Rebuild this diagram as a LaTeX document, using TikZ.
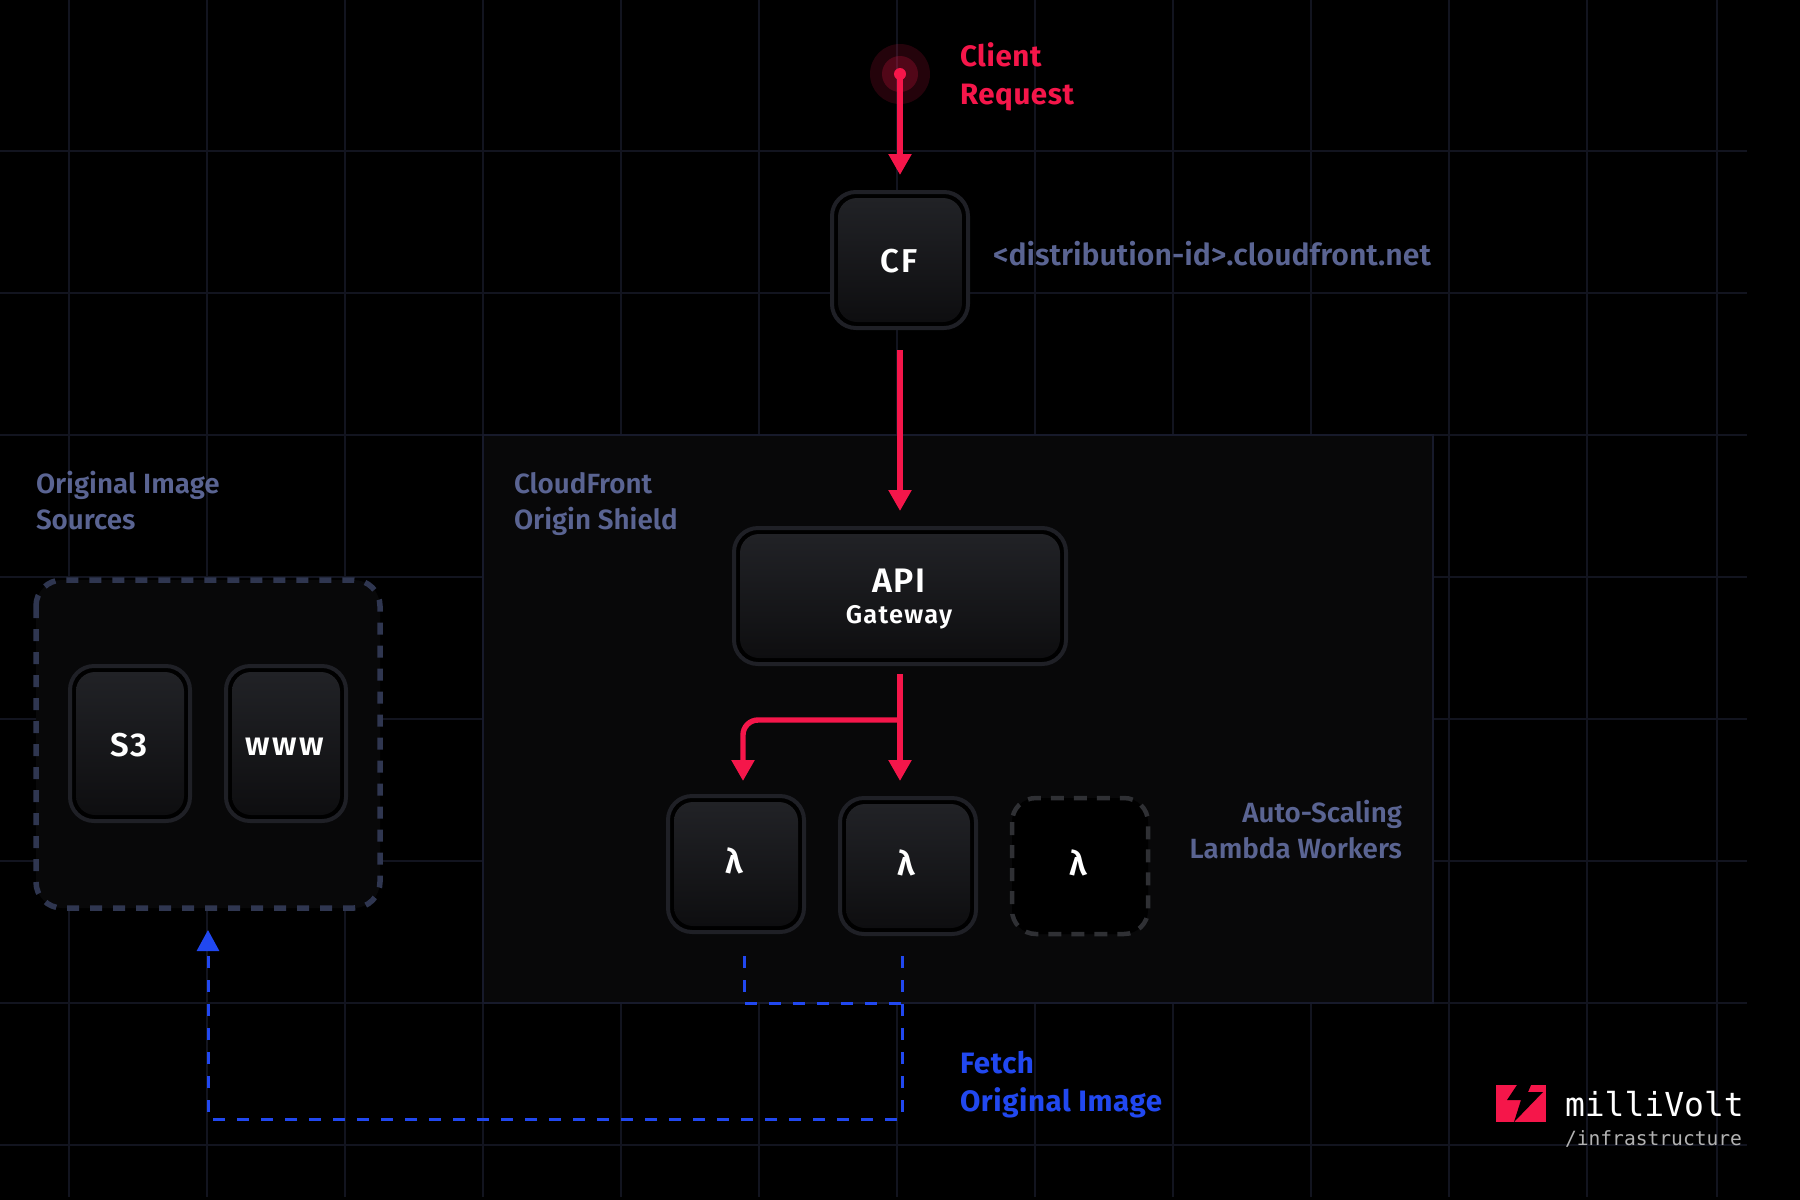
\documentclass[tikz,border=0pt]{standalone}
\usepackage{fontspec}
\setmainfont{Fira Sans}
\newfontfamily\medf{Fira Sans SemiBold}
\newfontfamily\wdf[LetterSpace=5]{Fira Sans SemiBold}
\newfontfamily\wwwf[LetterSpace=8]{Fira Sans SemiBold}
\newfontfamily\bigf[LetterSpace=2]{Fira Sans Bold}
\newfontfamily\logof{DejaVu Sans Mono}
\usetikzlibrary{arrows.meta,shapes.geometric}
\definecolor{bgc}{HTML}{000000}
\definecolor{gridc}{HTML}{12141F}
\definecolor{panelc}{HTML}{080809}
\definecolor{panelline}{HTML}{171A2B}
\definecolor{redc}{HTML}{F5164A}
\definecolor{bluec}{HTML}{2148F0}
\definecolor{slatec}{HTML}{5A6492}
\definecolor{edgec}{HTML}{1F2026}
\definecolor{ghostc}{HTML}{2F3034}
\definecolor{grouplinec}{HTML}{2F3650}
\definecolor{topc}{HTML}{212226}
\definecolor{botc}{HTML}{0E0E10}
\tikzset{
 x=1pt,y=-1pt,
 gridline/.style={gridc,line width=1.6pt},
 chip/.style={rounded corners=24pt,draw=edgec,line width=4pt,fill=black},
 chipface/.style={rounded corners=19pt,top color=topc,bottom color=botc,draw=none},
 ghost/.style={rounded corners=24pt,draw=ghostc,line width=4.5pt,fill=black,dash pattern=on 13pt off 10pt},
 lab/.style={inner sep=0pt,outer sep=0pt,align=left,anchor=north west},
 redflow/.style={redc,line width=5.4pt,-{Triangle[length=21pt,width=22pt]}},
 blueflow/.style={bluec,line width=3pt,dash pattern=on 12pt off 12pt},
 bluetip/.style={bluec,line width=3pt,-{Triangle[length=21pt,width=22pt]}},
 chiptext/.style={text=white,inner sep=0pt,align=center},
}
\newcommand{\chipbox}[5]{% x0 y0 x1 y1
 \draw[chip] (#1+2,#2+2) rectangle (#3-2,#4-2);
 \fill[chipface] (#1+8,#2+8) rectangle (#3-8,#4-8);
}
\begin{document}
\begin{tikzpicture}
\useasboundingbox (0,0) rectangle (1800,1200);
\fill[bgc] (0,0) rectangle (1800,1200);
% grid
\foreach \gx in {69,207,345,483,621,759,897,1035,1173,1311,1449,1587,1717}
  \draw[gridline] (\gx,0) -- (\gx,1197);
\foreach \gy in {151,293,435,577,719,861,1003,1145}
  \draw[gridline] (0,\gy) -- (1747,\gy);
% panel
\fill[panelc] (483,435) rectangle (1433,1003);
\draw[panelline,line width=1.6pt] (483,435) rectangle (1433,1003);
% source group
\draw[fill=panelc,draw=grouplinec,line width=5.5pt,rounded corners=26pt,dash pattern=on 12pt off 11pt] (36,580) rectangle (380,908);
% chips
\chipbox{68}{664}{192}{823}{}
\node[chiptext,font=\wdf\fontsize{33}{36}\selectfont] (s3) at (129,745) {S3};
\chipbox{224}{664}{348}{823}{}
\node[chiptext,font=\wwwf\fontsize{33}{36}\selectfont] (www) at (285,747) {www};
\chipbox{830}{190}{970}{330}{}
\node[chiptext,font=\wdf\fontsize{33}{36}\selectfont] (cf) at (899,261) {CF};
\draw[chip] (734,528) rectangle (1066,664);
\fill[chipface] (740,534) rectangle (1060,658);
\node[chiptext,font=\wdf\fontsize{34}{36}\selectfont] (api) at (899,581) {API};
\node[chiptext,font=\wdf\fontsize{25.5}{28}\selectfont] (gw) at (899,617) {Gateway};
\chipbox{666}{794}{806}{934}{}
\node[chiptext,font=\medf\fontsize{34}{36}\selectfont] (la) at (734,861) {λ};
\chipbox{838}{796}{978}{936}{}
\node[chiptext,font=\medf\fontsize{34}{36}\selectfont] (lb) at (906,863) {λ};
\draw[ghost] (1012,798) rectangle (1148,934);
\node[chiptext,font=\medf\fontsize{34}{36}\selectfont] (lc) at (1078,863) {λ};
% client dot
\fill[redc,opacity=.15] (900,74) circle (30);
\fill[redc,opacity=.22] (900,74) circle (18);
\fill[redc] (900,74) circle (6);
\coordinate (client) at (900,74);
\coordinate (cfin) at (900,175);
\coordinate (cfout) at (900,350);
\coordinate (apiin) at (900,511);
\coordinate (apiout) at (900,674);
\coordinate (split) at (900,720);
\coordinate (lain) at (743,781);
\coordinate (lbin) at (900,781);
\draw[redflow] (client) -- (cfin);
\draw[redflow] (cfout) -- (apiin);
\draw[redflow] (apiout) -- (lbin);
\draw[redflow,rounded corners=15pt] (split) -| (lain);
% blue
\coordinate (ba) at (744,956);
\coordinate (bb) at (744,1003);
\coordinate (bc) at (902,1003);
\coordinate (bd) at (902,956);
\coordinate (be) at (902,1119);
\coordinate (bf) at (208,1119);
\coordinate (bg) at (208,951);
\coordinate (srcin) at (208,930);
\draw[blueflow] (ba) -- (bb) -- (bc);
\draw[blueflow] (bd) -- (be) -- (bf) -- (bg);
\draw[bluetip] (bg) -- (srcin);
% labels
\node[lab,text=redc,font=\bigf\fontsize{29.5}{38}\selectfont] (t1) at (960,43) {Client\\Request};
\node[lab,text=slatec,font=\medf\fontsize{30.2}{36}\selectfont,anchor=west] (t2) at (993,254) {<distribution-id>.cloudfront.net};
\node[lab,text=slatec,font=\medf\fontsize{27.8}{36}\selectfont] (t3) at (36,471) {Original Image\\Sources};
\node[lab,text=slatec,font=\medf\fontsize{27.8}{36}\selectfont] (t4) at (514,472) {CloudFront\\Origin Shield};
\node[lab,text=slatec,font=\medf\fontsize{27.8}{36}\selectfont,align=right,anchor=north east] (t5) at (1402,800) {Auto-Scaling\\Lambda Workers};
\node[lab,text=bluec,font=\bigf\fontsize{29.5}{38}\selectfont] (t6) at (960,1051) {Fetch\\Original Image};
% logo
\fill[redc] (1496,1085) rectangle (1546,1122);
\fill[black] (1517,1085) -- (1507,1100) -- (1521,1100) -- (1514,1122) -- (1543,1092) -- (1528,1092) -- (1531,1085) -- cycle;
\node[lab,text=white,font=\logof\fontsize{33}{36}\selectfont,anchor=west] (t7) at (1565,1104) {milliVolt};
\node[lab,text=white!70!black,font=\logof\fontsize{19.6}{22}\selectfont,anchor=west] (t8) at (1565,1139) {/infrastructure};
\end{tikzpicture}
\end{document}
